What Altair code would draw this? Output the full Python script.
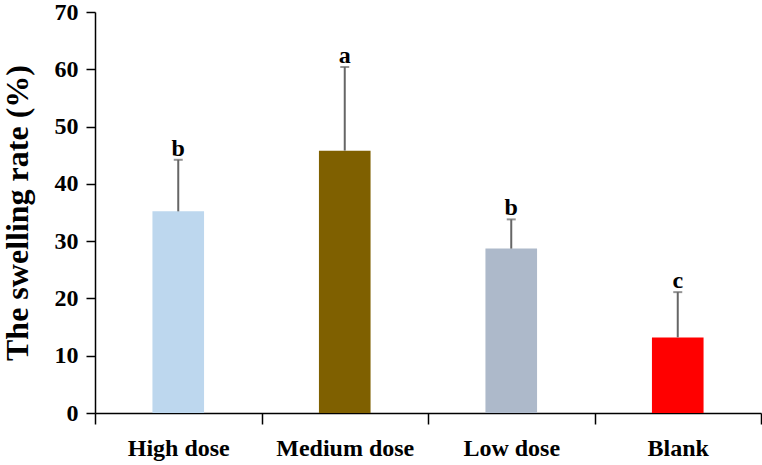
import altair as alt
import pandas as pd

groups = ["High dose", "Medium dose", "Low dose", "Blank"]
means = [35.2, 45.8, 28.7, 13.2]
upper = [44.2, 60.4, 33.8, 21.1]
letters = ["b", "a", "b", "c"]
colors = ["#BDD7EE", "#7F6000", "#ADB9CA", "#FF0000"]

df = pd.DataFrame({"group": groups, "mean": means, "upper": upper, "letter": letters})

FONT = "Liberation Serif"

x = alt.X(
    "group:N",
    sort=groups,
    scale=alt.Scale(paddingInner=0, paddingOuter=0),
    axis=alt.Axis(
        title=None, labelAngle=0, tickBand="extent", labelFont=FONT, labelFontSize=24,
        labelFontWeight="bold", labelColor="black", labelPadding=12, tickSize=11,
        tickColor="black", tickWidth=1.5, domainColor="black", domainWidth=1.5,
    ),
)
y_scale = alt.Scale(domain=[0, 70], nice=False)
y = alt.Y(
    "mean:Q",
    scale=y_scale,
    axis=alt.Axis(
        title="The swelling rate (%)", values=list(range(0, 71, 10)), grid=False,
        labelFont=FONT, labelFontSize=24, labelFontWeight="bold", labelColor="black",
        labelPadding=8, tickSize=9, tickColor="black", tickWidth=1.5,
        domainColor="black", domainWidth=1.5, titleFont=FONT, titleFontSize=32,
        titleFontWeight="bold", titleColor="black", titlePadding=20,
    ),
)

base = alt.Chart(df)

bars = base.mark_bar(width=alt.RelativeBandSize(0.31)).encode(
    x=x,
    y=y,
    color=alt.Color("group:N", scale=alt.Scale(domain=groups, range=colors), legend=None),
)

err = base.mark_rule(color="#666666", strokeWidth=2).encode(
    x=alt.X("group:N", sort=groups),
    y=alt.Y("mean:Q", scale=y_scale),
    y2="upper:Q",
)

cap = base.mark_tick(color="#666666", thickness=2, size=9, orient="horizontal").encode(
    x=alt.X("group:N", sort=groups),
    y=alt.Y("upper:Q", scale=y_scale),
)

txt = base.mark_text(font=FONT, fontSize=24, fontWeight="bold", color="black",
                     baseline="alphabetic", dy=-4).encode(
    x=alt.X("group:N", sort=groups),
    y=alt.Y("upper:Q", scale=y_scale),
    text="letter:N",
)

chart = (
    alt.layer(bars, err, cap, txt)
    .properties(
        width=666, height=401,
        autosize=alt.AutoSizeParams(type="none"),
        padding={"left": 95, "top": 12, "right": 1, "bottom": 52},
        background="white",
    )
    .configure_view(stroke=None)
)

chart.save("out.html", embed_options={"renderer": "svg", "actions": False})
